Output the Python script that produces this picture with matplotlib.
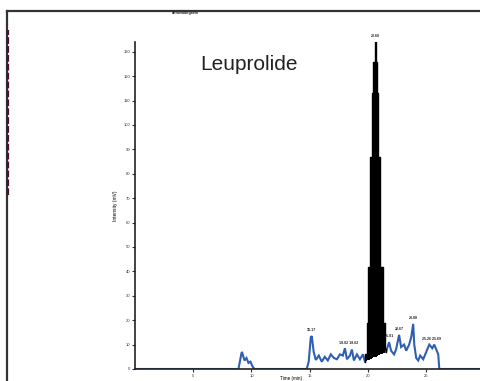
import matplotlib
matplotlib.use("Agg")
import matplotlib.pyplot as plt
import numpy as np

# ---- data ----
time_min = [0.0, 8.88, 9.14, 9.18, 9.40, 9.57, 9.74, 9.91, 10.09, 10.26,
            14.74, 14.91, 15.09, 15.17, 15.34, 15.52, 15.78, 16.03, 16.29, 16.55,
            16.81, 17.07, 17.33, 17.59, 17.84, 18.02, 18.19, 18.45, 18.62, 18.79,
            19.05, 19.31, 19.57, 19.74,
            19.83, 19.96, 20.09, 20.26, 20.39, 20.52, 20.60, 20.69, 20.78, 20.95,
            21.16, 21.34, 21.51, 21.55,
            21.81, 21.98, 22.24, 22.41, 22.67, 22.84, 23.10, 23.28, 23.53, 23.71,
            23.88, 23.97, 24.14, 24.31, 24.48, 24.74, 25.00, 25.26, 25.52, 25.69,
            25.86, 26.03, 26.12, 29.7]
intensity = [0.0, 0.0, 0.65, 0.7, 0.35, 0.45, 0.25, 0.3, 0.1, 0.0,
             0.0, 0.3, 1.3, 1.35, 0.7, 0.37, 0.55, 0.3, 0.5, 0.35,
             0.6, 0.45, 0.4, 0.6, 0.55, 0.85, 0.4, 0.55, 0.8, 0.35,
             0.6, 0.4, 0.6, 0.3,
             0.6, 1.9, 4.2, 8.7, 11.3, 12.6, 13.4, 12.6, 11.3, 8.7,
             4.2, 1.9, 0.8, 0.7,
             1.1, 0.75, 0.6, 0.8, 1.4, 0.9, 1.0, 0.75, 1.0, 1.3,
             1.85, 1.0, 0.45, 0.35, 0.55, 0.4, 0.7, 1.0, 0.85, 1.0,
             0.8, 0.6, 0.0, 0.0]

main_start, main_end = 19.74, 21.55
baseline_start, baseline_end = 0.3, 0.7

peak_label_times = [15.17, 18.32, 20.60, 21.81, 22.67, 23.88, 25.48]
peak_label_heights = [1.35, 0.85, 13.4, 1.1, 1.4, 1.85, 1.0]
peak_labels = ["15.17", "18.02 18.62", "20.60", "21.81", "22.67", "23.88", "25.26 25.69"]

x_ticks = [5, 10, 15, 20, 25]
y_ticks = list(range(0, 14))
y_tick_labels = [str(v * 10) for v in y_ticks]

title_text = "Leuprolide"

# ---- figure ----
fig = plt.figure(figsize=(4.81, 3.81), dpi=100)
plt.rcParams['font.family'] = ['Liberation Sans', 'DejaVu Sans']

ax = fig.add_axes([135/481, 12/381, (481-135)/481, (369-42)/381])
t = np.array(time_min)
y = np.array(intensity)

mask = (t >= main_start) & (t <= main_end)
y_blue = y.copy()
inner = (t > main_start) & (t < main_end)
y_blue[inner] = np.nan
ax.plot(t, y_blue, color='#2f5fb3', lw=1.5, solid_joinstyle='miter')

tm = t[mask]
base = baseline_start + (tm - main_start) / (main_end - main_start) * (baseline_end - baseline_start)
ax.fill_between(tm, base, y[mask], color='black', lw=0, step='mid')
ax.plot(tm, y[mask], color='black', lw=1.0, drawstyle='steps-mid')

for pt, ph, lab in zip(peak_label_times, peak_label_heights, peak_labels):
    ax.text(pt, ph + 0.15, lab, fontsize=2.6, ha='center', va='bottom',
            color='#222222', fontweight='bold')

ax.set_xlim(0, 29.7)
ax.set_ylim(0, 13.4)
ax.set_xticks(x_ticks)
ax.set_xticklabels([str(v) for v in x_ticks], fontsize=3)
ax.set_yticks(y_ticks)
ax.set_yticklabels(y_tick_labels, fontsize=3)
ax.tick_params(axis='both', length=2, width=0.8, pad=1.5, colors='#333333')
for s in ['top', 'right']:
    ax.spines[s].set_visible(False)
for s in ['left', 'bottom']:
    ax.spines[s].set_linewidth(1.2)
    ax.spines[s].set_color('#222222')
ax.set_ylabel("Intensity (mV)", fontsize=3.5, labelpad=4)
ax.set_xlabel("Time (min)", fontsize=3.3)
ax.xaxis.set_label_coords(0.45, -0.021)

ax.text(0.19, 0.93, title_text, transform=ax.transAxes, fontsize=15,
        color='#222222', va='center', ha='left')

# outer frame fragments
fig.add_artist(plt.Line2D([7/481, 1.0], [1-11/381, 1-11/381], color='#333333', lw=1.6))
fig.add_artist(plt.Line2D([7/481, 7/481], [0, 1-11/381], color='#333333', lw=1.6))
fig.add_artist(plt.Line2D([8/481, 8/481], [1-195/381, 1-30/381], color='#4a1030', lw=1.6,
                          ls=(0, (3, 1))))
fig.text(185/481, 1-13/381, "chromatogram", fontsize=2.8, fontweight='bold',
         ha='center', va='center', color='#222222')

fig.savefig("out.png", dpi=100)
